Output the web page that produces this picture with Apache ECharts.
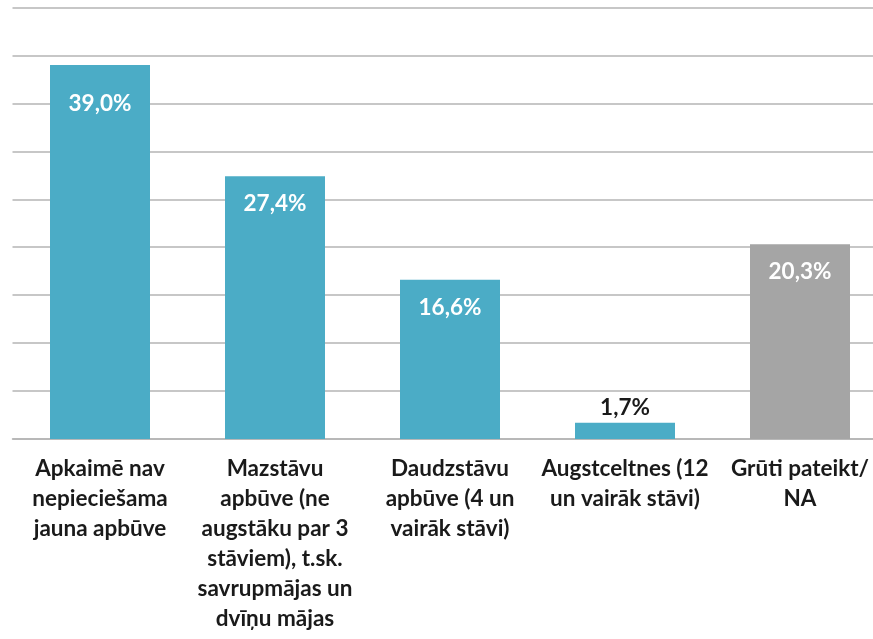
<!DOCTYPE html>
<html>
<head>
<meta charset="utf-8">
<script src="https://cdn.jsdelivr.net/npm/echarts@6/dist/echarts.min.js"></script>
<style>
html,body{margin:0;padding:0;background:#fff;overflow:hidden;width:873px;height:639px;}
#c{width:900px;height:639px;}
</style>
</head>
<body>
<div id="c"></div>
<script>
const categories = [
  "Apkaimē nav\nnepieciešama\njauna apbūve",
  "Mazstāvu\napbūve (ne\naugstāku par 3\nstāviem), t.sk.\nsavrupmājas un\ndvīņu mājas",
  "Daudzstāvu\napbūve (4 un\nvairāk stāvi)",
  "Augstceltnes (12\nun vairāk stāvi)",
  "Grūti pateikt/\nNA"
];
const values = [39.0, 27.4, 16.6, 1.7, 20.3];
const barColors = ["#4BACC6", "#4BACC6", "#4BACC6", "#4BACC6", "#A5A5A5"];
const yTicks = { min: 0, max: 45, interval: 5 };

const fmt = v => v.toFixed(1).replace('.', ',') + '%';

const data = values.map((v, i) => {
  const small = v < 5;
  return {
    value: v,
    itemStyle: { color: barColors[i] },
    label: small ? {
      position: 'top', color: '#1a1a1a', distance: 3
    } : {
      position: 'insideTop', color: '#ffffff', distance: i === 0 ? 27 : 16
    }
  };
});

const chart = echarts.init(document.getElementById('c'), null, { renderer: 'canvas' });
chart.setOption({
  animation: false,
  grid: { left: 12.5, right: 12.5, top: 7.5, bottom: 200, containLabel: false },
  xAxis: {
    type: 'category',
    data: categories,
    axisLine: { show: true, lineStyle: { color: '#b4b4b4', width: 1.5 } },
    axisTick: { show: false },
    axisLabel: {
      interval: 0,
      margin: 15,
      fontFamily: 'Lato',
      fontWeight: 'bold',
      fontSize: 22.5,
      lineHeight: 30,
      color: '#1a1a1a',
      align: 'center'
    }
  },
  yAxis: {
    type: 'value',
    min: yTicks.min, max: yTicks.max, interval: yTicks.interval,
    axisLabel: { show: false },
    axisLine: { show: false },
    axisTick: { show: false },
    splitLine: { lineStyle: { color: '#b4b4b4', width: 1.5 } }
  },
  series: [{
    type: 'bar',
    data: data,
    barWidth: 100,
    label: {
      show: true,
      fontFamily: 'Lato',
      fontWeight: 'bold',
      fontSize: 22.5,
      formatter: p => fmt(p.value)
    }
  }]
});
</script>
</body>
</html>
